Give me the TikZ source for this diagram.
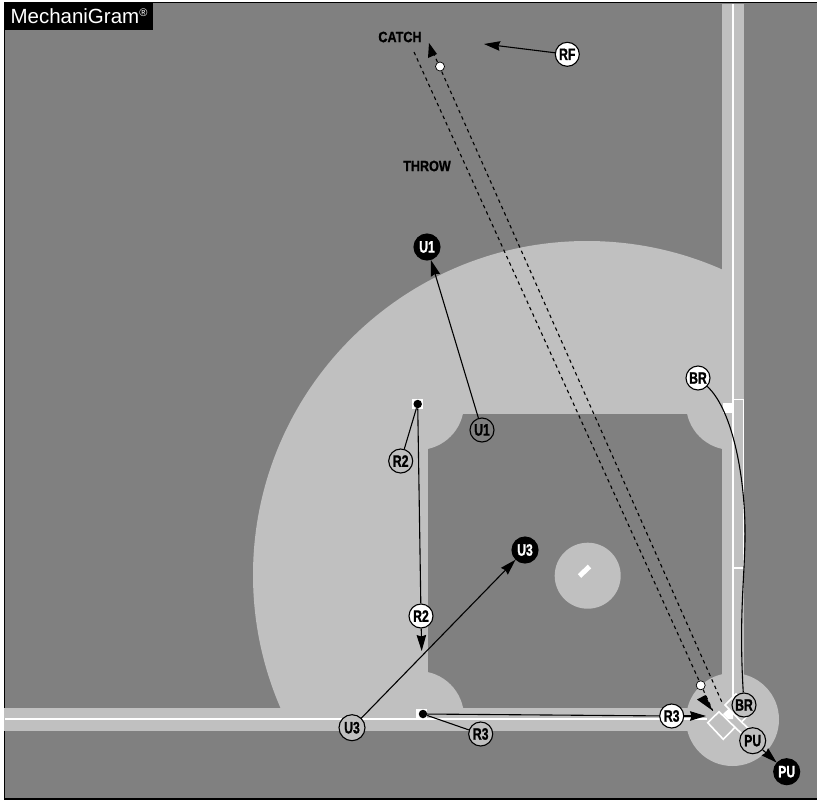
\documentclass[tikz,border=0pt]{standalone}
\usepackage{fontspec}
\setmainfont{Liberation Sans}
\newfontfamily\lblfont[FakeStretch=0.74,BoldFeatures={FakeBold=1}]{Liberation Sans}
\newfontfamily\wordfont[FakeStretch=0.84,BoldFeatures={FakeBold=1}]{Liberation Sans}
\usetikzlibrary{arrows.meta}
\definecolor{grass}{HTML}{808080}
\definecolor{dirt}{HTML}{C0C0C0}
\tikzset{
    player/.style={
        circle,
        draw,
        line width=1.1pt,
        minimum size=24pt,
        inner sep=0pt,
        font=\lblfont\bfseries\fontsize{16.5}{17}\selectfont
    },
    moved/.style={
        player,
        fill=white
    },
    ghost/.style={
        player,
        fill=dirt
    },
    final/.style={
        player,
        fill=black,
        text=white
    },
    dot/.style={
        circle,
        inner sep=0pt,
        minimum size=8.5pt,
        fill=black
    },
    ball/.style={
        circle,
        draw,
        line width=0.7pt,
        inner sep=0pt,
        minimum size=9pt,
        fill=white
    },
    word/.style={
        font=\wordfont\bfseries\fontsize{15}{16}\selectfont
    },
    line/.style={
        line width=1.1pt
    },
    move/.style={
        line,
        -{Stealth[length=16pt,width=9.5pt,inset=1.5pt]}
    },
    ballpath/.style={
        line width=1.1pt,
        dash pattern=on 3.5pt off 3.5pt
    },
    fieldline/.style={
        white,
        line width=1.6pt
    }
}
\begin{document}
\begin{tikzpicture}[x=1pt,y=-1pt]
\useasboundingbox (0,0) rectangle (817,801);

\fill[grass] (4.5,2.5) rectangle (817,799);
\draw[line width=1.2pt] (817,2.5) -- (4.5,2.5) -- (4.5,799) -- (817,799);

\begin{scope}
    \clip (4,4) rectangle (722,708);
    \fill[dirt] (587,575) circle (334pt);
\end{scope}
\fill[grass] (428,414) rectangle (722,708);
\begin{scope}
    \clip (428,414) rectangle (722,708);
    \foreach \x/\y in {418/404,418/717,732/404}
        \fill[dirt] (\x,\y) circle (46pt);
\end{scope}

\fill[dirt] (4,708) rectangle (722,730.5);
\fill[dirt] (722,4) rectangle (743.5,720);
\fill[dirt] (732.5,719.5) circle (46.5pt);
\fill[dirt] (587.7,575.7) circle (33pt);

\draw[fieldline] (5,719) -- (707,719);
\draw[fieldline] (733,4) -- (733,708);
\draw[fieldline] (733,399.5) -- (743.5,399.5) -- (743.5,568) -- (733,568);
\draw[white,line width=5pt] (579.5,576) -- (589.5,566.5);

\foreach \x/\y in {412/399,416/709,723/403}
    \fill[white] (\x,\y) rectangle ++(10.5,10);
\fill[white] (723,714) -- (729,708.5) -- (733,712) -- (733,719) -- (728,719) -- cycle;

\draw[fieldline] (707.7,722.7) -- (719,711.7) -- (735,727.3) -- (723.3,739.3) -- cycle;
\draw[fieldline] (725,705) -- (736,694) -- (753,710) -- (741.5,722) -- cycle;
\draw[fieldline] (735,727.3) -- (741,733);
\draw[fieldline] (741.5,722) -- (750,730);

\node[fill=black,text=white,anchor=north west,inner sep=0pt,minimum width=148pt,minimum height=27pt,font=\fontsize{20.5}{22}\selectfont] (title) at (5,2.5) {MechaniGram\textsuperscript{\fontsize{11}{11}\selectfont ®}};

\node[word] (catch) at (400,37) {CATCH};
\node[word] (throw) at (427,166) {THROW};

\coordinate (throwStart) at (414,52);
\coordinate (throwTip) at (712.7,710.7);
\coordinate (catchStart) at (721.7,701.7);
\coordinate (catchTip) at (429,43);
\coordinate (rfTip) at (484,44);
\coordinate (r2Tip) at (421.7,651);
\coordinate (r3Tip) at (706,716);

\draw[ballpath] (throwStart) -- (throwTip);
\draw[ballpath] (catchStart) -- (catchTip);
\fill (throwTip) -- (705.5,695) -- (697,699.5) -- cycle;
\fill (catchTip) -- (428,58) -- (437,54) -- cycle;

\node[ball] (throwBall) at (700.7,685.3) {};
\node[ball] (catchBall) at (440,66.5) {};

\node[dot] (r2Dot) at (417.7,404) {};
\node[dot] (r3Dot) at (423,714) {};

\node[ghost,fill=grass] (U1a) at (482,430) {U1};
\node[ghost] (R2a) at (400.7,461) {R2};
\node[ghost,minimum size=26pt] (U3a) at (352,727.7) {U3};
\node[ghost] (R3a) at (480.7,734) {R3};
\node[ghost] (BRb) at (744,705) {BR};
\node[ghost,minimum size=26pt] (PUa) at (752.7,740.7) {PU};

\node[moved] (RF) at (567.3,54.3) {RF};
\node[moved] (BRa) at (698,378) {BR};
\node[moved] (R2b) at (421,616) {R2};
\node[moved] (R3b) at (671.7,716) {R3};

\node[final,minimum size=26pt] (U1b) at (427,247) {U1};
\node[final,minimum size=26pt] (U3b) at (525,550) {U3};
\node[final,minimum size=26pt] (PUb) at (786.7,771.7) {PU};

\draw[move] (U1a) -- (U1b);
\draw[move] (U3a) -- (U3b);
\draw[move] (PUa) -- (PUb);
\draw[move] (RF) -- (rfTip);
\draw[move] (R2b) -- (r2Tip);
\draw[move] (R3b) -- (r3Tip);

\draw[line] (r2Dot) -- (R2a);
\draw[line] (r2Dot) -- (R2b);
\draw[line] (r3Dot) -- (R3a);
\draw[line] (r3Dot) -- (R3b);
\draw[line] (BRa) .. controls (733,410) and (746,480) .. (745,540) .. controls (744,585) and (739,620) .. (BRb);

\end{tikzpicture}
\end{document}
